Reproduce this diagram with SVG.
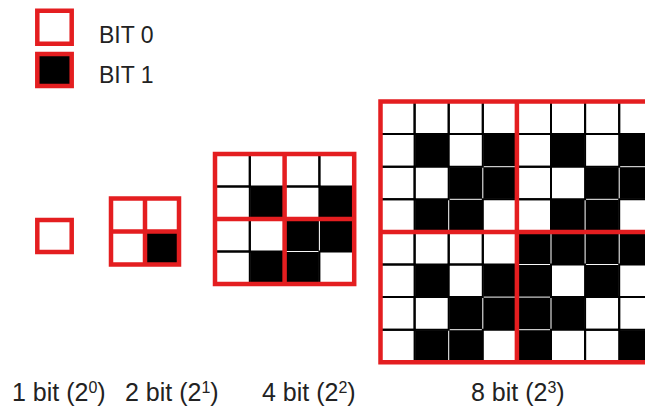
<svg xmlns="http://www.w3.org/2000/svg" width="645" height="411" viewBox="0 0 645 411">
<style>
  .bg{fill:#fff}
  .red{fill:none;stroke:#e41e20;stroke-width:4.5;vector-effect:non-scaling-stroke}
  .w{fill:none;stroke:#000;stroke-width:2;vector-effect:non-scaling-stroke}
  .k{fill:#000}
  text{font-family:"Liberation Sans",Arial,sans-serif;fill:#222}
  .leg{font-size:23px}
  .lab{font-size:25px}
  .sup{font-size:16px}
</style>
<rect width="645" height="411" fill="#fff"/>

<g id="legend-bit0">
  <rect class="red" x="37.3" y="10.7" width="34.4" height="33" style="fill:#fff"/>
  <text class="leg" x="99" y="42.7">BIT 0</text>
</g>
<g id="legend-bit1">
  <rect class="red" x="37.3" y="54" width="34.4" height="32" style="fill:#000"/>
  <text class="leg" x="99" y="83.3">BIT 1</text>
</g>

<g id="grid-1bit">
  <rect class="red" x="37.3" y="220" width="34.4" height="32" style="fill:#fff"/>
</g>

<g id="grid-2bit" transform="translate(111 198.5) scale(34 33)">
  <rect class="bg" x="0" y="0" width="2" height="2"/>
  <rect class="k" x="1" y="1" width="1" height="1"/>
  <rect class="red" x="0" y="0" width="2" height="2"/>
  <line class="red" x1="1" y1="0" x2="1" y2="2"/>
  <line class="red" x1="0" y1="1" x2="2" y2="1"/>
</g>

<g id="grid-4bit" transform="translate(215 154) scale(34.8 32.5)">
  <rect class="bg" x="0" y="0" width="4" height="4"/>
  <rect class="k" x="1.015" y="1.015" width="0.97" height="0.97"/>
  <rect class="k" x="3.015" y="1.015" width="0.97" height="0.97"/>
  <rect class="k" x="2.015" y="2.015" width="0.97" height="0.97"/>
  <rect class="k" x="3.015" y="2.015" width="0.97" height="0.97"/>
  <rect class="k" x="1.015" y="3.015" width="0.97" height="0.97"/>
  <rect class="k" x="2.015" y="3.015" width="0.97" height="0.97"/>
  <rect class="w" x="0" y="0" width="1" height="1"/>
  <rect class="w" x="1" y="0" width="1" height="1"/>
  <rect class="w" x="2" y="0" width="1" height="1"/>
  <rect class="w" x="3" y="0" width="1" height="1"/>
  <rect class="w" x="0" y="1" width="1" height="1"/>
  <rect class="w" x="2" y="1" width="1" height="1"/>
  <rect class="w" x="0" y="2" width="1" height="1"/>
  <rect class="w" x="1" y="2" width="1" height="1"/>
  <rect class="w" x="0" y="3" width="1" height="1"/>
  <rect class="w" x="3" y="3" width="1" height="1"/>
  <rect class="red" x="0" y="0" width="4" height="4"/>
  <line class="red" x1="2" y1="0" x2="2" y2="4"/>
  <line class="red" x1="0" y1="2" x2="4" y2="2"/>
</g>

<g id="grid-8bit" transform="translate(380.5 101.5) scale(34.1 32.6)">
  <rect class="bg" x="0" y="0" width="8" height="8"/>
  <rect class="k" x="1.015" y="1.015" width="0.97" height="0.97"/>
  <rect class="k" x="3.015" y="1.015" width="0.97" height="0.97"/>
  <rect class="k" x="5.015" y="1.015" width="0.97" height="0.97"/>
  <rect class="k" x="7.015" y="1.015" width="0.97" height="0.97"/>
  <rect class="k" x="2.015" y="2.015" width="0.97" height="0.97"/>
  <rect class="k" x="3.015" y="2.015" width="0.97" height="0.97"/>
  <rect class="k" x="6.015" y="2.015" width="0.97" height="0.97"/>
  <rect class="k" x="7.015" y="2.015" width="0.97" height="0.97"/>
  <rect class="k" x="1.015" y="3.015" width="0.97" height="0.97"/>
  <rect class="k" x="2.015" y="3.015" width="0.97" height="0.97"/>
  <rect class="k" x="5.015" y="3.015" width="0.97" height="0.97"/>
  <rect class="k" x="6.015" y="3.015" width="0.97" height="0.97"/>
  <rect class="k" x="4.015" y="4.015" width="0.97" height="0.97"/>
  <rect class="k" x="5.015" y="4.015" width="0.97" height="0.97"/>
  <rect class="k" x="6.015" y="4.015" width="0.97" height="0.97"/>
  <rect class="k" x="7.015" y="4.015" width="0.97" height="0.97"/>
  <rect class="k" x="1.015" y="5.015" width="0.97" height="0.97"/>
  <rect class="k" x="3.015" y="5.015" width="0.97" height="0.97"/>
  <rect class="k" x="4.015" y="5.015" width="0.97" height="0.97"/>
  <rect class="k" x="6.015" y="5.015" width="0.97" height="0.97"/>
  <rect class="k" x="2.015" y="6.015" width="0.97" height="0.97"/>
  <rect class="k" x="3.015" y="6.015" width="0.97" height="0.97"/>
  <rect class="k" x="4.015" y="6.015" width="0.97" height="0.97"/>
  <rect class="k" x="5.015" y="6.015" width="0.97" height="0.97"/>
  <rect class="k" x="1.015" y="7.015" width="0.97" height="0.97"/>
  <rect class="k" x="2.015" y="7.015" width="0.97" height="0.97"/>
  <rect class="k" x="4.015" y="7.015" width="0.97" height="0.97"/>
  <rect class="k" x="7.015" y="7.015" width="0.97" height="0.97"/>
  <rect class="w" x="0" y="0" width="1" height="1"/>
  <rect class="w" x="1" y="0" width="1" height="1"/>
  <rect class="w" x="2" y="0" width="1" height="1"/>
  <rect class="w" x="3" y="0" width="1" height="1"/>
  <rect class="w" x="4" y="0" width="1" height="1"/>
  <rect class="w" x="5" y="0" width="1" height="1"/>
  <rect class="w" x="6" y="0" width="1" height="1"/>
  <rect class="w" x="7" y="0" width="1" height="1"/>
  <rect class="w" x="0" y="1" width="1" height="1"/>
  <rect class="w" x="2" y="1" width="1" height="1"/>
  <rect class="w" x="4" y="1" width="1" height="1"/>
  <rect class="w" x="6" y="1" width="1" height="1"/>
  <rect class="w" x="0" y="2" width="1" height="1"/>
  <rect class="w" x="1" y="2" width="1" height="1"/>
  <rect class="w" x="4" y="2" width="1" height="1"/>
  <rect class="w" x="5" y="2" width="1" height="1"/>
  <rect class="w" x="0" y="3" width="1" height="1"/>
  <rect class="w" x="3" y="3" width="1" height="1"/>
  <rect class="w" x="4" y="3" width="1" height="1"/>
  <rect class="w" x="7" y="3" width="1" height="1"/>
  <rect class="w" x="0" y="4" width="1" height="1"/>
  <rect class="w" x="1" y="4" width="1" height="1"/>
  <rect class="w" x="2" y="4" width="1" height="1"/>
  <rect class="w" x="3" y="4" width="1" height="1"/>
  <rect class="w" x="0" y="5" width="1" height="1"/>
  <rect class="w" x="2" y="5" width="1" height="1"/>
  <rect class="w" x="5" y="5" width="1" height="1"/>
  <rect class="w" x="7" y="5" width="1" height="1"/>
  <rect class="w" x="0" y="6" width="1" height="1"/>
  <rect class="w" x="1" y="6" width="1" height="1"/>
  <rect class="w" x="6" y="6" width="1" height="1"/>
  <rect class="w" x="7" y="6" width="1" height="1"/>
  <rect class="w" x="0" y="7" width="1" height="1"/>
  <rect class="w" x="3" y="7" width="1" height="1"/>
  <rect class="w" x="5" y="7" width="1" height="1"/>
  <rect class="w" x="6" y="7" width="1" height="1"/>
  <rect class="red" x="0" y="0" width="8" height="8"/>
  <line class="red" x1="4" y1="0" x2="4" y2="8"/>
  <line class="red" x1="0" y1="4" x2="8" y2="4"/>
</g>

<g id="labels">
  <text class="lab" x="12" y="401">1 bit (2<tspan class="sup" dy="-8">0</tspan><tspan dy="8">)</tspan></text>
  <text class="lab" x="125" y="401">2 bit (2<tspan class="sup" dy="-8">1</tspan><tspan dy="8">)</tspan></text>
  <text class="lab" x="262" y="401">4 bit (2<tspan class="sup" dy="-8">2</tspan><tspan dy="8">)</tspan></text>
  <text class="lab" x="471" y="401">8 bit (2<tspan class="sup" dy="-8">3</tspan><tspan dy="8">)</tspan></text>
</g>
</svg>
